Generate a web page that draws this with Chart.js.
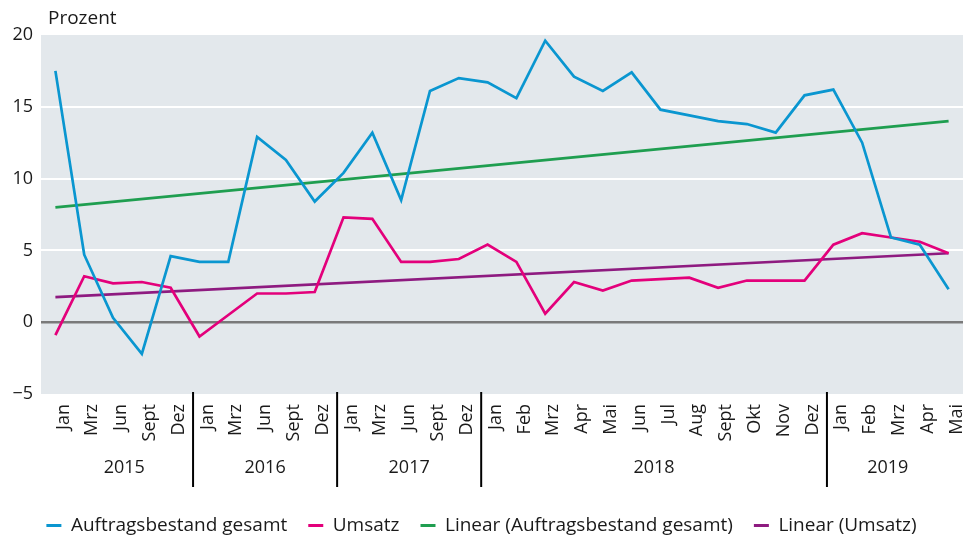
<!DOCTYPE html>
<html lang="de">
<head>
<meta charset="utf-8">
<script src="https://cdn.jsdelivr.net/npm/chart.js@4.4.1/dist/chart.umd.min.js"></script>
<style>
  html, body { margin: 0; padding: 0; background: #fff; }
  #wrap { width: 973px; height: 535px; }
</style>
</head>
<body>
<div id="wrap"><canvas id="chart"></canvas></div>
<script>
const months = [
    'Jan', 'Mrz', 'Jun', 'Sept', 'Dez',
    'Jan', 'Mrz', 'Jun', 'Sept', 'Dez',
    'Jan', 'Mrz', 'Jun', 'Sept', 'Dez',
    'Jan', 'Feb', 'Mrz', 'Apr', 'Mai', 'Jun', 'Jul', 'Aug', 'Sept', 'Okt', 'Nov', 'Dez',
    'Jan', 'Feb', 'Mrz', 'Apr', 'Mai'
];
const years = ['2015', '2016', '2017', '2018', '2019'];
const monthsPerYear = [5, 5, 5, 12, 5];

const auftragsbestand = [
    17.5, 4.7, 0.3, -2.2, 4.6,
    4.2, 4.2, 12.9, 11.3, 8.4,
    10.4, 13.2, 8.5, 16.1, 17.0,
    16.7, 15.6, 19.6, 17.1, 16.1, 17.4, 14.8, 14.4, 14.0, 13.8, 13.2, 15.8,
    16.2, 12.5, 5.9, 5.4, 2.3
];
const umsatz = [
    -0.9, 3.2, 2.7, 2.8, 2.4,
    -1.0, 0.5, 2.0, 2.0, 2.1,
    7.3, 7.2, 4.2, 4.2, 4.4,
    5.4, 4.2, 0.6, 2.8, 2.2, 2.9, 3.0, 3.1, 2.4, 2.9, 2.9, 2.9,
    5.4, 6.2, 5.9, 5.6, 4.8
];
// Trendlinien: Werte am Anfang und Ende
const linearAuftrag = [8.0, 14.0];
const linearUmsatz = [1.75, 4.8];

const yMin = -5;
const yMax = 20;
const yStep = 5;

const LABEL_SHIFT = 8;
const FONT = '"Open Sans", sans-serif';

function trendSeries(ends) {
    const arr = months.map(() => null);
    arr[0] = ends[0];
    arr[arr.length - 1] = ends[1];
    return arr;
}

Chart.defaults.font.family = FONT;
Chart.defaults.font.size = 18;
Chart.defaults.color = '#1a1a1a';

const plotBackground = {
    id: 'plotBackground',
    beforeDraw(chart) {
        const { ctx, chartArea } = chart;
        ctx.save();
        ctx.fillStyle = '#e3e8ec';
        ctx.fillRect(chartArea.left, chartArea.top, chartArea.right - chartArea.left, chartArea.bottom - chartArea.top);
        ctx.restore();
    },
    beforeLayout(chart) {
        // legend a bit closer to the bottom edge
        const lg = chart.legend;
        if (lg && !lg._patched) {
            const fit = lg.fit.bind(lg);
            lg.fit = function () { fit(); this.height -= 10; };
            lg._patched = true;
        }
    }
};

const yearAxis = {
    id: 'yearAxis',
    afterDraw(chart) {
        const { ctx, chartArea } = chart;
        const x = chart.scales.x;
        ctx.save();
        ctx.fillStyle = '#1a1a1a';
        ctx.strokeStyle = '#000';
        ctx.lineWidth = 2;
        ctx.textBaseline = 'middle';

        // "Prozent" above the axis
        ctx.font = '19px ' + FONT;
        ctx.textAlign = 'left';
        ctx.fillText('Prozent', chartArea.left + 7, chartArea.top - 16);

        ctx.font = '18px ' + FONT;
        ctx.textAlign = 'center';
        let start = 0;
        years.forEach((yr, i) => {
            const end = start + monthsPerYear[i] - 1;
            const left = i === 0 ? x.getPixelForValue(start)
                : (x.getPixelForValue(start - 1) + x.getPixelForValue(start)) / 2 + LABEL_SHIFT;
            const right = i === years.length - 1 ? x.getPixelForValue(end)
                : (x.getPixelForValue(end) + x.getPixelForValue(end + 1)) / 2 + LABEL_SHIFT;
            ctx.fillText(yr, (left + right) / 2, chartArea.bottom + 74);
            if (i > 0) {
                ctx.beginPath();
                ctx.moveTo(left, chartArea.bottom - 2);
                ctx.lineTo(left, chartArea.bottom + 93);
                ctx.stroke();
            }
            start = end + 1;
        });
        ctx.restore();
    }
};

new Chart(document.getElementById('chart'), {
    type: 'line',
    data: {
        labels: months,
        datasets: [{
            label: 'Auftragsbestand gesamt',
            data: auftragsbestand,
            borderColor: '#0a96d0',
            backgroundColor: '#0a96d0'
        }, {
            label: 'Umsatz',
            data: umsatz,
            borderColor: '#e3007b',
            backgroundColor: '#e3007b'
        }, {
            label: 'Linear (Auftragsbestand gesamt)',
            data: trendSeries(linearAuftrag),
            borderColor: '#1f9e50',
            backgroundColor: '#1f9e50',
            spanGaps: true
        }, {
            label: 'Linear (Umsatz)',
            data: trendSeries(linearUmsatz),
            borderColor: '#8e1b80',
            backgroundColor: '#8e1b80',
            spanGaps: true
        }]
    },
    options: {
        responsive: true,
        maintainAspectRatio: false,
        animation: false,
        layout: { padding: { top: 35, right: 10, left: 0, bottom: 0 } },
        elements: {
            line: { borderWidth: 2.7, tension: 0 },
            point: { radius: 0, hoverRadius: 0 }
        },
        scales: {
            x: {
                offset: true,
                grid: { display: false, drawTicks: false },
                border: { display: false },
                ticks: {
                    autoSkip: false,
                    maxRotation: 90,
                    minRotation: 90,
                    labelOffset: LABEL_SHIFT,
                    padding: 10
                },
                afterFit(scale) {
                    scale.height = 101;
                    scale.paddingLeft = 0;
                    scale.paddingRight = 0;
                }
            },
            y: {
                min: yMin,
                max: yMax,
                grid: {
                    drawTicks: false,
                    lineWidth: ctx => ctx.tick && ctx.tick.value === 0 ? 2.5 : 2,
                    color: ctx => {
                        const v = ctx.tick ? ctx.tick.value : null;
                        if (v === 0) return '#7a7a7a';
                        if (v === yMin || v === yMax) return 'rgba(0,0,0,0)';
                        return '#ffffff';
                    }
                },
                border: { display: false },
                ticks: {
                    stepSize: yStep,
                    padding: 8,
                    callback: v => v < 0 ? '\u2212' + Math.abs(v) : String(v)
                },
                afterFit(scale) { scale.width = 41; }
            }
        },
        plugins: {
            legend: {
                position: 'bottom',
                labels: {
                    font: { size: 19 },
                    boxWidth: 15,
                    boxHeight: 3,
                    padding: 21,
                    generateLabels(chart) {
                        return Chart.defaults.plugins.legend.labels.generateLabels(chart)
                            .map(l => Object.assign(l, { lineWidth: 0 }));
                    }
                }
            },
            tooltip: { enabled: false }
        }
    },
    plugins: [plotBackground, yearAxis]
});
</script>
</body>
</html>
